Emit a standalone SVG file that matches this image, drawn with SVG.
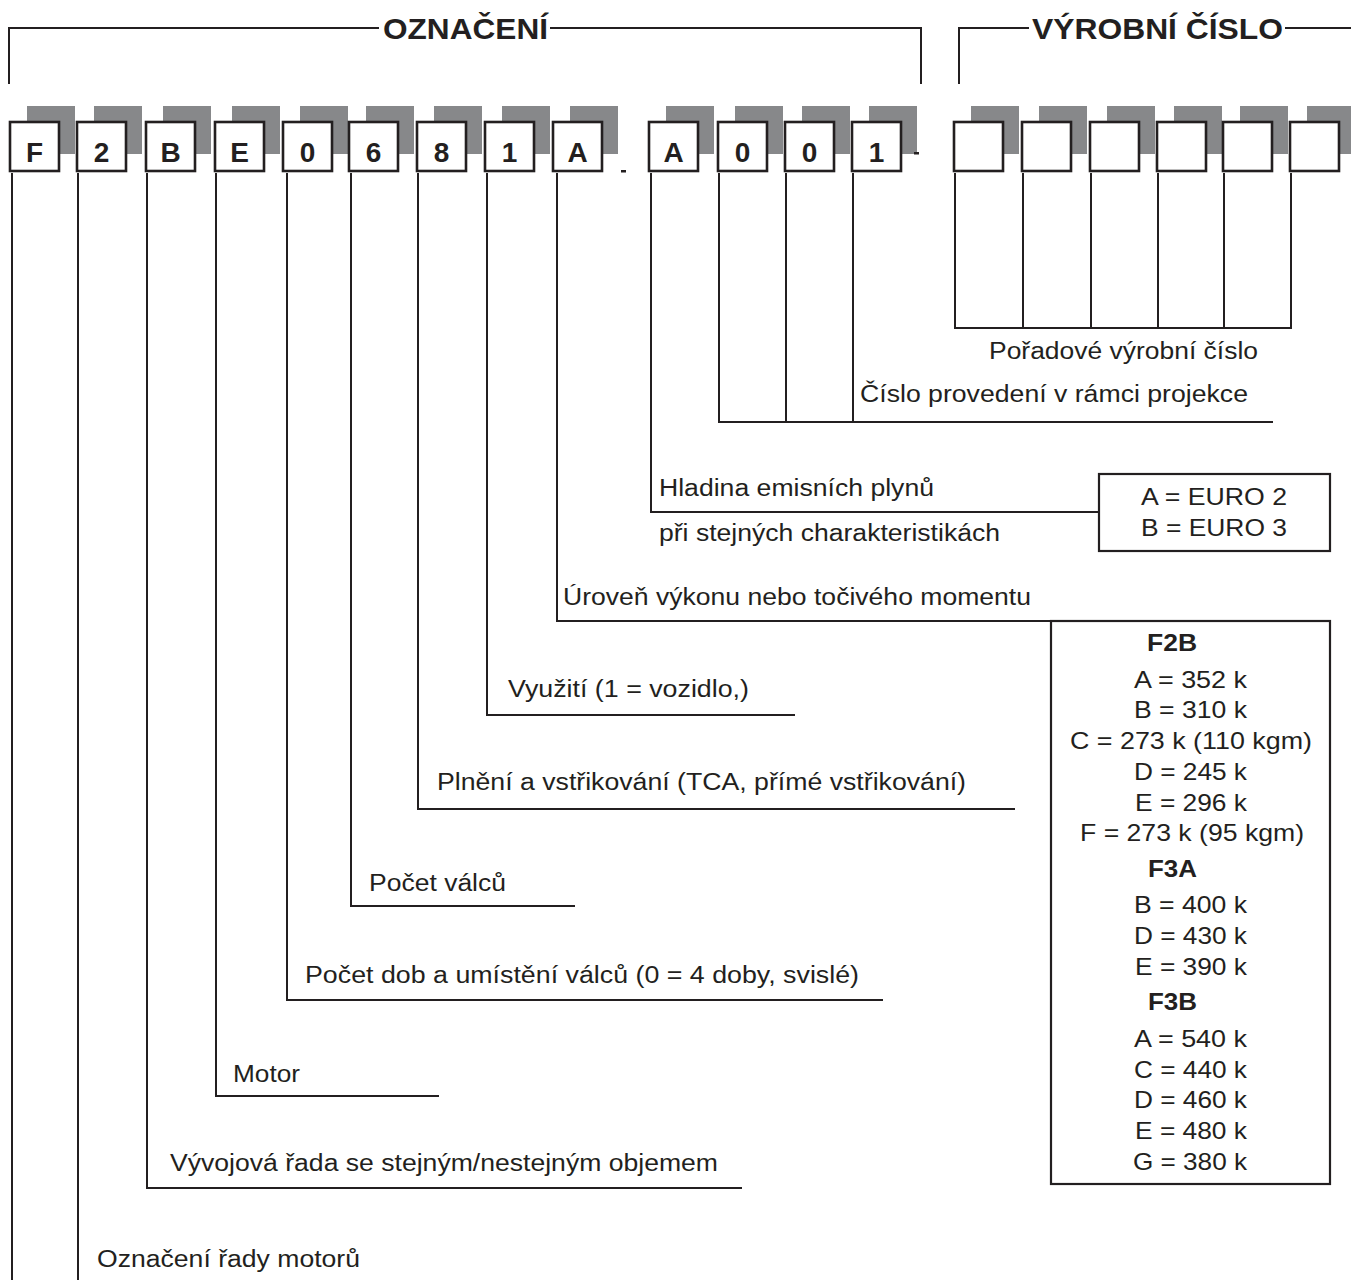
<svg xmlns="http://www.w3.org/2000/svg" width="1351" height="1280" viewBox="0 0 1351 1280">
<style>
.bg{fill:#ffffff}
.br{fill:none;stroke:#231f20;stroke-width:2}
.sh{fill:#87888a}
.bx{fill:#ffffff;stroke:#231f20;stroke-width:2.6}
.ch{font-family:"Liberation Sans",Arial,sans-serif;font-weight:bold;font-size:28px;fill:#231f20;text-anchor:middle}
.hd{font-family:"Liberation Sans",Arial,sans-serif;font-weight:bold;font-size:30px;fill:#231f20}
.t{font-family:"Liberation Sans",Arial,sans-serif;font-size:23px;fill:#231f20}
.tc{font-family:"Liberation Sans",Arial,sans-serif;font-size:24px;fill:#231f20;text-anchor:middle}
.tb{font-family:"Liberation Sans",Arial,sans-serif;font-size:24px;font-weight:bold;fill:#231f20;text-anchor:middle}
.ln{fill:none;stroke:#231f20;stroke-width:2}
.fr{fill:#ffffff;stroke:#231f20;stroke-width:2.2}
</style>
<rect class="bg" x="0" y="0" width="1351" height="1280"/>

<g id="header-oznaceni">
<polyline class="br" points="9,84 9,28 379,28"/>
<polyline class="br" points="550,28 921,28 921,84"/>
<text class="hd" x="383" y="39" textLength="165" lengthAdjust="spacingAndGlyphs">OZNAČENÍ</text>
</g>
<g id="header-vyrobni">
<polyline class="br" points="959,84 959,28 1029,28"/>
<polyline class="br" points="1285,28 1351,28"/>
<text class="hd" x="1032" y="39" textLength="251" lengthAdjust="spacingAndGlyphs">VÝROBNÍ ČÍSLO</text>
</g>

<g id="code-boxes">
<g id="box-F"><rect class="sh" x="27" y="106" width="48" height="48"/><rect class="bx" x="10" y="122" width="49" height="49"/><text class="ch" x="34.5" y="162">F</text></g>
<g id="box-2"><rect class="sh" x="94" y="106" width="48" height="48"/><rect class="bx" x="77" y="122" width="49" height="49"/><text class="ch" x="101.5" y="162">2</text></g>
<g id="box-B"><rect class="sh" x="163" y="106" width="48" height="48"/><rect class="bx" x="146" y="122" width="49" height="49"/><text class="ch" x="170.5" y="162">B</text></g>
<g id="box-E"><rect class="sh" x="232" y="106" width="48" height="48"/><rect class="bx" x="215" y="122" width="49" height="49"/><text class="ch" x="239.5" y="162">E</text></g>
<g id="box-0a"><rect class="sh" x="300" y="106" width="48" height="48"/><rect class="bx" x="283" y="122" width="49" height="49"/><text class="ch" x="307.5" y="162">0</text></g>
<g id="box-6"><rect class="sh" x="366" y="106" width="48" height="48"/><rect class="bx" x="349" y="122" width="49" height="49"/><text class="ch" x="373.5" y="162">6</text></g>
<g id="box-8"><rect class="sh" x="434" y="106" width="48" height="48"/><rect class="bx" x="417" y="122" width="49" height="49"/><text class="ch" x="441.5" y="162">8</text></g>
<g id="box-1a"><rect class="sh" x="502" y="106" width="48" height="48"/><rect class="bx" x="485" y="122" width="49" height="49"/><text class="ch" x="509.5" y="162">1</text></g>
<g id="box-Aa"><rect class="sh" x="570" y="106" width="48" height="48"/><rect class="bx" x="553" y="122" width="49" height="49"/><text class="ch" x="577.5" y="162">A</text></g>
<rect x="621" y="170" width="5" height="2.5" fill="#231f20"/>
<g id="box-Ab"><rect class="sh" x="666" y="106" width="48" height="48"/><rect class="bx" x="649" y="122" width="49" height="49"/><text class="ch" x="673.5" y="162">A</text></g>
<g id="box-0b"><rect class="sh" x="735" y="106" width="48" height="48"/><rect class="bx" x="718" y="122" width="49" height="49"/><text class="ch" x="742.5" y="162">0</text></g>
<g id="box-0c"><rect class="sh" x="802" y="106" width="48" height="48"/><rect class="bx" x="785" y="122" width="49" height="49"/><text class="ch" x="809.5" y="162">0</text></g>
<g id="box-1b"><rect class="sh" x="869" y="106" width="48" height="48"/><rect class="bx" x="852" y="122" width="49" height="49"/><text class="ch" x="876.5" y="162">1</text></g>
<rect x="914" y="152" width="5" height="2.5" fill="#231f20"/>
</g>

<g id="serial-boxes">
<g id="sbox-1"><rect class="sh" x="971" y="106" width="48" height="48"/><rect class="bx" x="954" y="122" width="49" height="49"/></g>
<g id="sbox-2"><rect class="sh" x="1039" y="106" width="48" height="48"/><rect class="bx" x="1022" y="122" width="49" height="49"/></g>
<g id="sbox-3"><rect class="sh" x="1107" y="106" width="48" height="48"/><rect class="bx" x="1090" y="122" width="49" height="49"/></g>
<g id="sbox-4"><rect class="sh" x="1174" y="106" width="48" height="48"/><rect class="bx" x="1157" y="122" width="49" height="49"/></g>
<g id="sbox-5"><rect class="sh" x="1240" y="106" width="48" height="48"/><rect class="bx" x="1223" y="122" width="49" height="49"/></g>
<g id="sbox-6"><rect class="sh" x="1307" y="106" width="48" height="48"/><rect class="bx" x="1290" y="122" width="49" height="49"/></g>
</g>

<g id="connectors">
<line class="ln" x1="12" y1="173" x2="12" y2="1280"/>
<line class="ln" x1="78" y1="173" x2="78" y2="1280"/>
<polyline class="ln" points="147,173 147,1188 742,1188"/>
<polyline class="ln" points="216,173 216,1096 439,1096"/>
<polyline class="ln" points="287,173 287,1000 883,1000"/>
<polyline class="ln" points="351,173 351,906 575,906"/>
<polyline class="ln" points="418,173 418,809 1015,809"/>
<polyline class="ln" points="487,173 487,715 795,715"/>
<polyline class="ln" points="557,173 557,621 1051,621"/>
<polyline class="ln" points="651,173 651,512 1099,512"/>
<polyline class="ln" points="719,173 719,422 1273,422"/>
<line class="ln" x1="786" y1="173" x2="786" y2="422"/>
<line class="ln" x1="853" y1="173" x2="853" y2="422"/>
<line class="ln" x1="955" y1="173" x2="955" y2="328"/>
<line class="ln" x1="1023" y1="173" x2="1023" y2="328"/>
<line class="ln" x1="1091" y1="173" x2="1091" y2="328"/>
<line class="ln" x1="1158" y1="173" x2="1158" y2="328"/>
<line class="ln" x1="1224" y1="173" x2="1224" y2="328"/>
<line class="ln" x1="1291" y1="173" x2="1291" y2="328"/>
<line class="ln" x1="954" y1="328" x2="1292" y2="328"/>
</g>

<g id="labels">
<text class="t" x="989" y="359" textLength="269" lengthAdjust="spacingAndGlyphs">Pořadové výrobní číslo</text>
<text class="t" x="860" y="402" textLength="388" lengthAdjust="spacingAndGlyphs">Číslo provedení v rámci projekce</text>
<text class="t" x="659" y="496" textLength="275" lengthAdjust="spacingAndGlyphs">Hladina emisních plynů</text>
<text class="t" x="659" y="541" textLength="341" lengthAdjust="spacingAndGlyphs">při stejných charakteristikách</text>
<text class="t" x="563" y="605" textLength="468" lengthAdjust="spacingAndGlyphs">Úroveň výkonu nebo točivého momentu</text>
<text class="t" x="508" y="697" textLength="241" lengthAdjust="spacingAndGlyphs">Využití (1 = vozidlo,)</text>
<text class="t" x="437" y="790" textLength="529" lengthAdjust="spacingAndGlyphs">Plnění a vstřikování (TCA, přímé vstřikování)</text>
<text class="t" x="369" y="891" textLength="137" lengthAdjust="spacingAndGlyphs">Počet válců</text>
<text class="t" x="305" y="983" textLength="554" lengthAdjust="spacingAndGlyphs">Počet dob a umístění válců (0 = 4 doby, svislé)</text>
<text class="t" x="233" y="1082" textLength="67" lengthAdjust="spacingAndGlyphs">Motor</text>
<text class="t" x="170" y="1171" textLength="548" lengthAdjust="spacingAndGlyphs">Vývojová řada se stejným/nestejným objemem</text>
<text class="t" x="97" y="1267" textLength="263" lengthAdjust="spacingAndGlyphs">Označení řady motorů</text>
</g>

<g id="euro-box">
<rect class="fr" x="1099" y="474" width="231" height="77"/>
<text class="tc" x="1214" y="505" textLength="146" lengthAdjust="spacingAndGlyphs">A = EURO 2</text>
<text class="tc" x="1214" y="536" textLength="146" lengthAdjust="spacingAndGlyphs">B = EURO 3</text>
</g>

<g id="power-box">
<rect class="fr" x="1051" y="621" width="279" height="563"/>
<text class="tb" x="1172" y="651" textLength="50" lengthAdjust="spacingAndGlyphs">F2B</text>
<text class="tc" x="1190.5" y="688" textLength="113" lengthAdjust="spacingAndGlyphs">A = 352 k</text>
<text class="tc" x="1190.5" y="718" textLength="113" lengthAdjust="spacingAndGlyphs">B = 310 k</text>
<text class="tc" x="1191" y="749" textLength="242" lengthAdjust="spacingAndGlyphs">C = 273 k (110 kgm)</text>
<text class="tc" x="1190.5" y="780" textLength="113" lengthAdjust="spacingAndGlyphs">D = 245 k</text>
<text class="tc" x="1191" y="811" textLength="112" lengthAdjust="spacingAndGlyphs">E = 296 k</text>
<text class="tc" x="1192" y="841" textLength="224" lengthAdjust="spacingAndGlyphs">F = 273 k (95 kgm)</text>
<text class="tb" x="1172.5" y="877" textLength="49" lengthAdjust="spacingAndGlyphs">F3A</text>
<text class="tc" x="1190.5" y="913" textLength="113" lengthAdjust="spacingAndGlyphs">B = 400 k</text>
<text class="tc" x="1190.5" y="944" textLength="113" lengthAdjust="spacingAndGlyphs">D = 430 k</text>
<text class="tc" x="1191" y="975" textLength="112" lengthAdjust="spacingAndGlyphs">E = 390 k</text>
<text class="tb" x="1172.5" y="1010" textLength="49" lengthAdjust="spacingAndGlyphs">F3B</text>
<text class="tc" x="1190.5" y="1047" textLength="113" lengthAdjust="spacingAndGlyphs">A = 540 k</text>
<text class="tc" x="1190.5" y="1078" textLength="113" lengthAdjust="spacingAndGlyphs">C = 440 k</text>
<text class="tc" x="1190.5" y="1108" textLength="113" lengthAdjust="spacingAndGlyphs">D = 460 k</text>
<text class="tc" x="1191" y="1139" textLength="112" lengthAdjust="spacingAndGlyphs">E = 480 k</text>
<text class="tc" x="1190" y="1170" textLength="114" lengthAdjust="spacingAndGlyphs">G = 380 k</text>
</g>
</svg>
